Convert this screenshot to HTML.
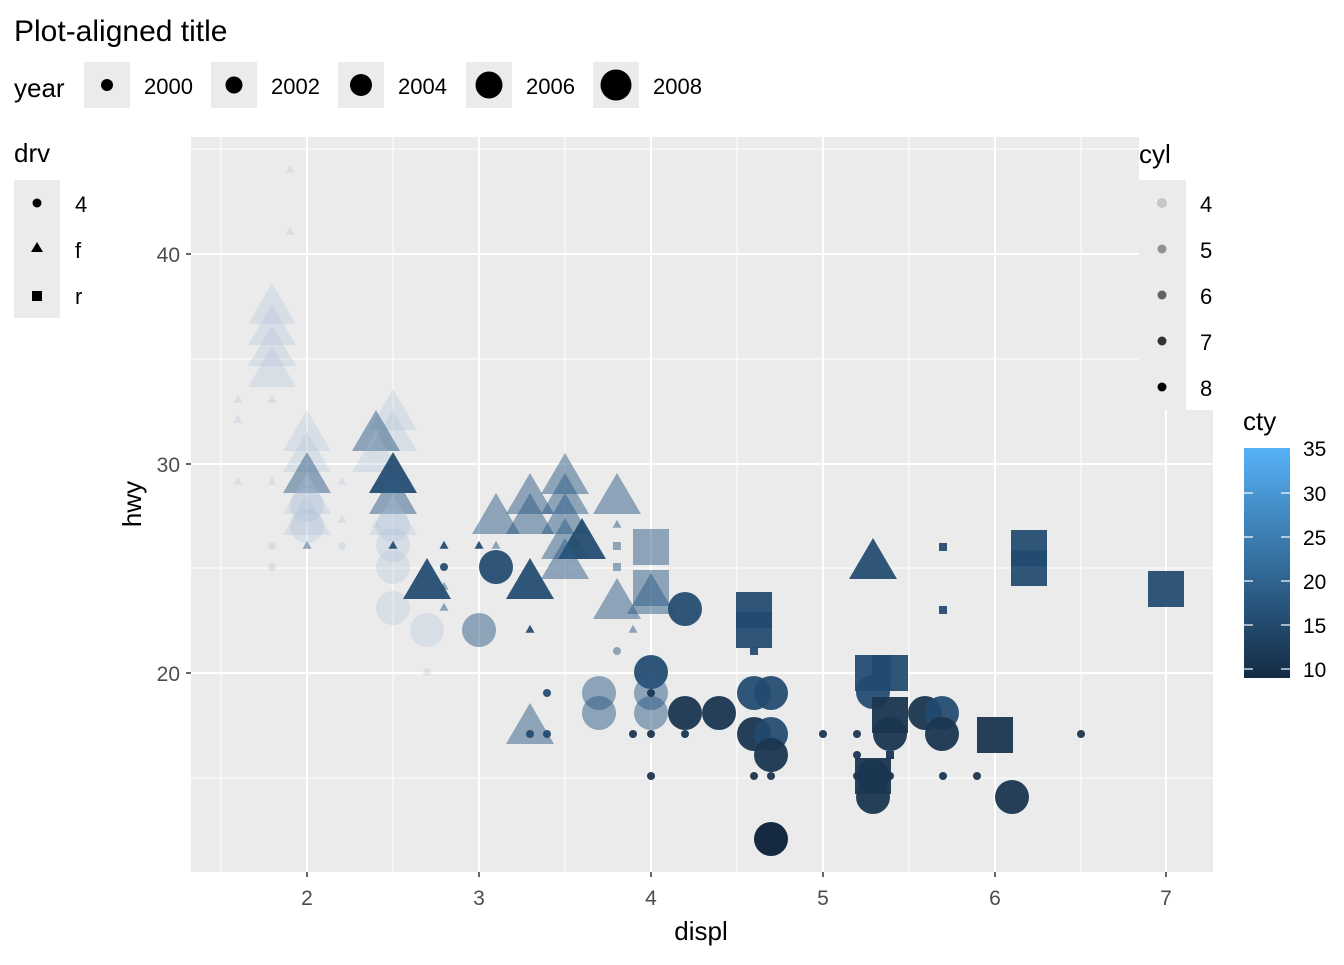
<!DOCTYPE html>
<html><head><meta charset="utf-8"><style>
body{margin:0;background:#fff}
svg text{font-family:"Liberation Sans",Arial,sans-serif}
</style></head><body>
<svg id="s" width="1344" height="960" xmlns="http://www.w3.org/2000/svg">
<rect width="1344" height="960" fill="#fff"/>
<text x="14" y="41" font-size="30">Plot-aligned title</text>
<text x="14" y="97" font-size="26">year</text>
<g fill="#ebebeb">
<rect x="84" y="62" width="46" height="46"/><rect x="211" y="62" width="46" height="46"/><rect x="338" y="62" width="46" height="46"/><rect x="466" y="62" width="46" height="46"/><rect x="593" y="62" width="46" height="46"/>
</g>
<g fill="#000">
<circle cx="107" cy="85" r="6"/><circle cx="234" cy="85" r="8.5"/><circle cx="361" cy="85" r="11"/><circle cx="489" cy="85" r="13.5"/><circle cx="616" cy="85" r="15.5"/>
</g>
<g font-size="22"><text x="144" y="94">2000</text><text x="271" y="94">2002</text><text x="398" y="94">2004</text><text x="526" y="94">2006</text><text x="653" y="94">2008</text></g>
<text x="14" y="162" font-size="26">drv</text>
<rect x="14" y="180" width="46" height="138" fill="#ebebeb"/>
<circle cx="37" cy="203" r="4.5"/><polygon points="37,242 43,252 31,252"/><rect x="32" y="291" width="10" height="10"/>
<g font-size="22"><text x="75" y="212">4</text><text x="75" y="258">f</text><text x="75" y="304">r</text></g>
<rect x="191" y="137" width="1022" height="735" fill="#ebebeb"/>
<g stroke="#fff" stroke-width="1"><line x1="221" y1="137" x2="221" y2="872"/><line x1="393" y1="137" x2="393" y2="872"/><line x1="565" y1="137" x2="565" y2="872"/><line x1="737" y1="137" x2="737" y2="872"/><line x1="909" y1="137" x2="909" y2="872"/><line x1="1081" y1="137" x2="1081" y2="872"/>
<line x1="191" y1="149" x2="1213" y2="149"/><line x1="191" y1="359" x2="1213" y2="359"/><line x1="191" y1="568" x2="1213" y2="568"/><line x1="191" y1="778" x2="1213" y2="778"/></g>
<g stroke="#fff" stroke-width="2"><line x1="307" y1="137" x2="307" y2="872"/><line x1="479" y1="137" x2="479" y2="872"/><line x1="651" y1="137" x2="651" y2="872"/><line x1="823" y1="137" x2="823" y2="872"/><line x1="995" y1="137" x2="995" y2="872"/><line x1="1166" y1="137" x2="1166" y2="872"/>
<line x1="191" y1="254" x2="1213" y2="254"/><line x1="191" y1="464" x2="1213" y2="464"/><line x1="191" y1="673" x2="1213" y2="673"/></g>
<g id="pts"></g>
<g stroke="#333" stroke-width="1.5"><line x1="186" y1="254" x2="191" y2="254"/><line x1="186" y1="464" x2="191" y2="464"/><line x1="186" y1="673" x2="191" y2="673"/>
<line x1="307" y1="872" x2="307" y2="877"/><line x1="479" y1="872" x2="479" y2="877"/><line x1="651" y1="872" x2="651" y2="877"/><line x1="823" y1="872" x2="823" y2="877"/><line x1="995" y1="872" x2="995" y2="877"/><line x1="1166" y1="872" x2="1166" y2="877"/></g>
<g font-size="21" fill="#4d4d4d" text-anchor="end"><text x="180" y="262">40</text><text x="180" y="472">30</text><text x="180" y="681">20</text></g>
<g font-size="21" fill="#4d4d4d" text-anchor="middle"><text x="307" y="905">2</text><text x="479" y="905">3</text><text x="651" y="905">4</text><text x="823" y="905">5</text><text x="995" y="905">6</text><text x="1166" y="905">7</text></g>
<text x="701" y="940" font-size="26" text-anchor="middle">displ</text>
<text transform="translate(141,504) rotate(-90)" font-size="26" text-anchor="middle">hwy</text>
<rect x="1139" y="137" width="76" height="273" fill="#fff"/>
<text x="1139" y="163" font-size="26">cyl</text>
<rect x="1139" y="180" width="47" height="230" fill="#ebebeb"/>
<circle cx="1162" cy="203" r="4.5" fill="#000" fill-opacity="0.15" stroke="#000" stroke-opacity="0.1"/>
<circle cx="1162" cy="249" r="4.5" fill="#000" fill-opacity="0.38"/>
<circle cx="1162" cy="295" r="4.5" fill="#000" fill-opacity="0.58"/>
<circle cx="1162" cy="341" r="4.5" fill="#000" fill-opacity="0.78"/>
<circle cx="1162" cy="387" r="4.5" fill="#000"/>
<g font-size="22"><text x="1200" y="212">4</text><text x="1200" y="258">5</text><text x="1200" y="304">6</text><text x="1200" y="350">7</text><text x="1200" y="396">8</text></g>
<text x="1243" y="430" font-size="26">cty</text>
<defs><linearGradient id="g" x1="0" y1="1" x2="0" y2="0"><stop offset="0" stop-color="#132B43"/><stop offset="1" stop-color="#56B1F7"/></linearGradient></defs>
<rect x="1244" y="448" width="46" height="230" fill="url(#g)"/>
<g stroke="#fff" stroke-width="1.2">
<line x1="1244" y1="493" x2="1253" y2="493"/><line x1="1281" y1="493" x2="1290" y2="493"/>
<line x1="1244" y1="537" x2="1253" y2="537"/><line x1="1281" y1="537" x2="1290" y2="537"/>
<line x1="1244" y1="581" x2="1253" y2="581"/><line x1="1281" y1="581" x2="1290" y2="581"/>
<line x1="1244" y1="625" x2="1253" y2="625"/><line x1="1281" y1="625" x2="1290" y2="625"/>
<line x1="1244" y1="669" x2="1253" y2="669"/><line x1="1281" y1="669" x2="1290" y2="669"/></g>
<g font-size="21"><text x="1303" y="456">35</text><text x="1303" y="501">30</text><text x="1303" y="545">25</text><text x="1303" y="589">20</text><text x="1303" y="633">15</text><text x="1303" y="677">10</text></g>
</svg>
<script>
var g=document.getElementById('pts'),NS='http://www.w3.org/2000/svg';
var C={L:['#a9c0d6',0.28],M:['#2e5b86',0.5],D:['#204a6f',0.93],K:['#1a3650',0.95],X:['#152a40',1]};
function add(t,x,y,big,c){var e,col=C[c];
 if(t=='c'){e=document.createElementNS(NS,'circle');e.setAttribute('cx',x);e.setAttribute('cy',y);e.setAttribute('r',big?17:4);}
 else if(t=='t'){e=document.createElementNS(NS,'polygon');var w=big?24:4.5,h=big?41:8;e.setAttribute('points',x+','+(y-h*0.66)+' '+(x+w)+','+(y+h*0.34)+' '+(x-w)+','+(y+h*0.34));}
 else{e=document.createElementNS(NS,'rect');var s=big?36:8;e.setAttribute('x',x-s/2);e.setAttribute('y',y-s/2);e.setAttribute('width',s);e.setAttribute('height',s);}
 e.setAttribute('fill',col[0]);e.setAttribute('fill-opacity',col[1]);g.appendChild(e);}
var P=[
['t',272,310,1,'L'],['t',272,331,1,'L'],['t',272,352,1,'L'],['t',272,373,1,'L'],
['t',238,400,0,'L'],['t',238,420,0,'L'],['t',238,482,0,'L'],['t',272,400,0,'L'],['t',272,482,0,'L'],['t',290,170,0,'L'],['t',290,232,0,'L'],
['t',307,437,1,'L'],['t',307,458,1,'L'],['t',307,479,1,'M'],['t',307,500,1,'L'],['t',307,521,1,'L'],['c',307,526,1,'L'],['c',307,505,1,'L'],
['t',393,416,1,'L'],['t',393,437,1,'L'],['t',376,437,1,'M'],['t',376,458,1,'L'],['t',393,479,1,'D'],['t',393,500,1,'M'],['t',393,521,1,'L'],
['c',393,525,1,'L'],['c',393,545,1,'L'],['c',393,567,1,'L'],['c',393,608,1,'L'],['c',427,630,1,'L'],
['t',342,482,0,'L'],['t',342,520,0,'L'],['t',307,482,0,'L'],['c',272,546,0,'L'],['c',272,567,0,'L'],['c',342,546,0,'L'],['t',307,546,0,'M'],
['t',376,525,0,'L'],['t',393,546,0,'D'],['t',444,546,0,'D'],['t',444,587,0,'M'],['c',444,567,0,'D'],['t',479,546,0,'D'],['t',496,546,0,'M'],
['t',427,585,1,'D'],['t',496,520,1,'M'],['t',530,500,1,'M'],['t',530,520,1,'M'],['t',565,480,1,'M'],['t',565,500,1,'M'],['t',565,520,1,'M'],['t',565,545,1,'M'],['t',582,545,1,'D'],['t',565,565,1,'M'],['t',617,500,1,'M'],['t',530,585,1,'D'],['t',617,605,1,'M'],['t',651,600,1,'M'],['t',530,730,1,'M'],
['c',496,567,1,'D'],['c',479,630,1,'M'],['c',427,672,0,'L'],['t',530,630,0,'D'],['t',444,608,0,'M'],['t',617,525,0,'M'],['r',617,546,0,'M'],['r',617,567,0,'M'],['t',633,630,0,'M'],['c',617,651,0,'M'],
['r',651,547,1,'M'],['r',651,588,1,'M'],['c',599,693,1,'M'],['c',599,713,1,'M'],['c',651,672,1,'D'],['c',651,693,1,'M'],['c',651,713,1,'M'],['c',685,609,1,'D'],
['c',685,713,1,'K'],['c',719,713,1,'K'],['r',754,610,1,'D'],['r',754,630,1,'D'],['c',754,693,1,'D'],['c',754,734,1,'K'],['c',771,693,1,'D'],['c',771,734,1,'D'],['c',771,755,1,'K'],['c',771,839,1,'X'],
['t',873,565,1,'D'],['r',943,547,0,'D'],['r',943,610,0,'D'],['r',1029,548,1,'D'],['r',1029,568,1,'D'],['r',1166,589,1,'D'],
['r',873,673,1,'D'],['r',890,673,1,'D'],['c',873,692,1,'D'],['r',890,715,1,'K'],['c',890,734,1,'K'],['c',925,713,1,'K'],['c',942,713,1,'D'],['c',942,734,1,'K'],['r',995,735,1,'K'],['c',1012,797,1,'K'],
['r',873,776,1,'K'],['c',873,797,1,'K'],['c',873,776,1,'K'],
['c',633,734,0,'K'],['c',651,734,0,'K'],['c',685,734,0,'K'],['c',651,776,0,'K'],['c',754,776,0,'K'],['c',771,776,0,'K'],['c',823,734,0,'K'],['c',857,734,0,'K'],['c',857,755,0,'K'],['c',943,776,0,'K'],['c',977,776,0,'K'],['c',1081,734,0,'K'],['c',547,693,0,'D'],['c',530,734,0,'D'],['c',547,734,0,'D'],['r',754,651,0,'D'],['r',890,755,0,'K'],['c',857,776,0,'K'],['c',890,776,0,'K'],['c',651,693,0,'K']
];
P.forEach(function(p){add(p[0],p[1],p[2],p[3],p[4]);});
</script>
</body></html>
